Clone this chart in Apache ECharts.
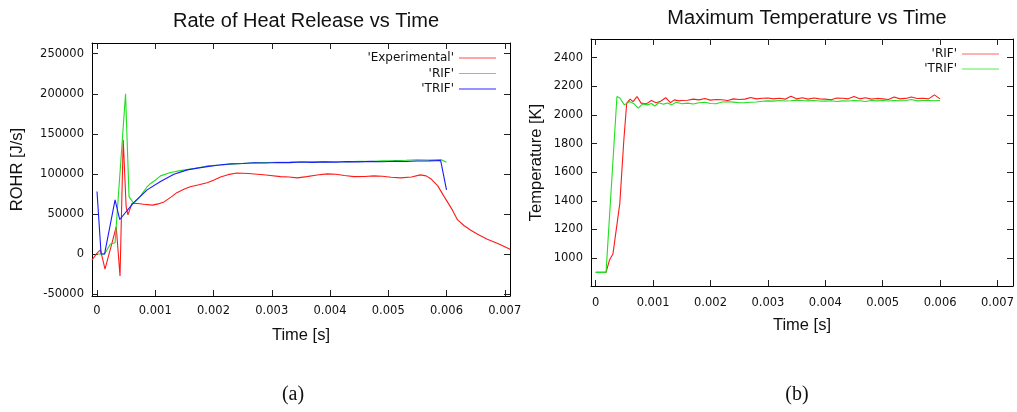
<!DOCTYPE html>
<html>
<head>
<meta charset="utf-8">
<script src="https://cdn.jsdelivr.net/npm/echarts@6/dist/echarts.min.js"></script>
<style>
  html, body { margin: 0; padding: 0; background: #ffffff; }
  #chart { width: 1017px; height: 412px; }
</style>
</head>
<body>
<div id="chart"></div>
<script>
// ---- (a) Rate of heat release, J/s ----
const expTime = [-0.000086, 0, 0.00006, 0.000137, 0.00026, 0.00033, 0.000395, 0.00045, 0.0005, 0.00053, 0.0006,
  0.0007, 0.0008, 0.00095, 0.00105, 0.00115, 0.00127, 0.00137, 0.0015, 0.0016, 0.00175, 0.00189, 0.002, 0.00212,
  0.00225, 0.0024, 0.0026, 0.00275, 0.0029, 0.00315, 0.0033, 0.00344, 0.0036, 0.00378, 0.00395, 0.0041, 0.00425,
  0.00441, 0.0046, 0.00475, 0.0049, 0.00505, 0.00521, 0.0054, 0.00555, 0.00565, 0.00573, 0.00585, 0.00596, 0.0061,
  0.00619, 0.0063, 0.00641, 0.00655, 0.0067, 0.0069, 0.00709];
const expRohr = [-7500, 1000, 5000, -19000, 14500, 34000, -27500, 142500, 59000, 48750, 63000,
  63000, 62000, 61000, 62500, 65000, 71000, 76500, 81000, 84000, 86500, 89000, 92000, 96000,
  99000, 101000, 100500, 99500, 98500, 96500, 96000, 95000, 96500, 98500, 100000, 99500, 98000,
  96600, 96800, 97500, 97000, 95800, 95000, 96000, 98750, 97500, 94000, 85000, 71600, 55000,
  42500, 35500, 30000, 24000, 18400, 12500, 5900];

const rifTime = [0, 0.00013, 0.00023, 0.00031, 0.00049, 0.00055, 0.00063, 0.00074, 0.00085, 0.00092, 0.001,
  0.00109, 0.00126, 0.00143, 0.0016, 0.00177, 0.0019, 0.00212, 0.0023, 0.0025, 0.0027, 0.0029, 0.0031, 0.0033,
  0.0035, 0.0037, 0.0039, 0.0041, 0.0043, 0.0045, 0.0047, 0.0049, 0.0051, 0.0053, 0.0055, 0.0057, 0.0059, 0.006];
const rifRohr = [0, 0, 12500, 14000, 200000, 71600, 63000, 71600, 83000, 88000, 92000,
  97500, 101600, 104000, 106000, 108000, 110000, 111000, 112000, 113000, 113800, 114200, 114500, 114700,
  115000, 115200, 115000, 115400, 115200, 115600, 115500, 116200, 116500, 117000, 117600, 117200, 118000, 114500];

const trifTime = [0, 0.00007, 0.00013, 0.00031, 0.00039, 0.00042, 0.00063, 0.00086, 0.00109, 0.00132, 0.00155,
  0.00175, 0.00189, 0.0021, 0.00229, 0.0025, 0.0027, 0.0029, 0.0031, 0.0033, 0.0035, 0.0037, 0.0039, 0.0041,
  0.0043, 0.0045, 0.0047, 0.0049, 0.0051, 0.0053, 0.0055, 0.0057, 0.0059, 0.006];
const trifRohr = [78000, 0, 0, 67500, 43000, 43000, 64000, 80000, 90400, 99600, 105000,
  107500, 109000, 111000, 112500, 113000, 113800, 113500, 114200, 114000, 114800, 114300, 115000, 114500,
  115300, 115000, 115600, 115200, 115800, 115500, 116000, 116200, 116600, 80000];

// ---- (b) Maximum temperature, K ----
const rifTempTime = [0, 0.00018, 0.00024, 0.0003, 0.00042, 0.00049, 0.00054, 0.0006, 0.00065, 0.00072, 0.00079,
  0.00088, 0.00097, 0.00105, 0.00113, 0.00122, 0.0013, 0.00137, 0.00145, 0.0015, 0.0016, 0.0017, 0.0018, 0.0019,
  0.002, 0.0021, 0.0022, 0.0023, 0.0024, 0.0025, 0.0026, 0.0027, 0.0028, 0.0029, 0.003, 0.0031, 0.0032, 0.0033,
  0.0034, 0.0035, 0.0036, 0.0037, 0.0038, 0.0039, 0.004, 0.0041, 0.0042, 0.0043, 0.0044, 0.0045, 0.0046, 0.0047,
  0.0048, 0.0049, 0.005, 0.0051, 0.0052, 0.0053, 0.0054, 0.0055, 0.0056, 0.0057, 0.0058, 0.0059, 0.006];
const rifTemp = [900, 900, 986, 1028, 1382, 1825, 2082, 2110, 2093, 2128, 2082,
  2077, 2100, 2085, 2095, 2120, 2085, 2105, 2098, 2100, 2102, 2110, 2105, 2115,
  2103, 2108, 2106, 2100, 2112, 2108, 2110, 2122, 2112, 2116, 2118, 2112, 2116, 2110,
  2130, 2112, 2120, 2110, 2118, 2112, 2110, 2106, 2118, 2116, 2112, 2128, 2112, 2120,
  2110, 2115, 2112, 2108, 2125, 2112, 2115, 2125, 2114, 2116, 2112, 2140, 2112];

const trifTempTime = [0, 0.00018, 0.00037, 0.00042, 0.0005, 0.00059, 0.00066, 0.00074, 0.00082, 0.0009, 0.00097,
  0.00103, 0.0011, 0.00118, 0.00125, 0.00132, 0.0014, 0.0015, 0.0016, 0.0017, 0.0018, 0.0019, 0.002, 0.0021,
  0.0022, 0.0023, 0.0024, 0.0025, 0.0026, 0.0027, 0.0028, 0.0029, 0.003, 0.0031, 0.0032, 0.0033, 0.0034, 0.0035,
  0.0036, 0.0037, 0.0038, 0.0039, 0.004, 0.0041, 0.0042, 0.0043, 0.0044, 0.0045, 0.0046, 0.0047, 0.0048, 0.0049,
  0.005, 0.0051, 0.0052, 0.0053, 0.0054, 0.0055, 0.0056, 0.0057, 0.0058, 0.0059, 0.006];
const trifTemp = [900, 900, 2128, 2118, 2070, 2093, 2080, 2047, 2077, 2070, 2080,
  2062, 2085, 2075, 2083, 2070, 2088, 2078, 2082, 2076, 2085, 2088, 2080, 2078,
  2090, 2092, 2089, 2085, 2086, 2088, 2090, 2095, 2098, 2096, 2100, 2097, 2099, 2103,
  2100, 2098, 2100, 2097, 2096, 2099, 2094, 2098, 2097, 2100, 2099, 2093, 2100, 2098,
  2100, 2097, 2101, 2099, 2100, 2108, 2098, 2100, 2101, 2099, 2100];

// ---- tick positions ----
const timeTicks = [0, 0.001, 0.002, 0.003, 0.004, 0.005, 0.006, 0.007];
const rohrTicks = [-50000, 0, 50000, 100000, 150000, 200000, 250000];
const tempTicks = [1000, 1200, 1400, 1600, 1800, 2000, 2200, 2400];

const legendText = {
  'Experimental': "'Experimental'", 'RIF': "'RIF'", 'TRIF': "'TRIF'",
  'RIF Tmax': "'RIF'", 'TRIF Tmax': "'TRIF'"
};

const pairs = (ts, vs) => ts.map((t, i) => [t, vs[i]]);

const INK = '#111';
const tickFont = { fontFamily: 'DejaVu Sans', fontSize: 11.5, color: INK };
const legendFont = { fontFamily: 'DejaVu Sans', fontSize: 12, color: INK };
const nameFont = { fontFamily: 'Liberation Sans', fontSize: 16.5, color: INK };

function axis(opts) {
  const mirror = opts.mirror;
  return {
    type: 'value',
    gridIndex: opts.grid,
    position: opts.position,
    min: opts.min,
    max: opts.max,
    scale: true,
    name: mirror ? '' : opts.name,
    nameLocation: 'middle',
    nameGap: opts.nameGap,
    nameTextStyle: nameFont,
    axisLine: { show: true, onZero: false, lineStyle: { color: '#000', width: 1 } },
    axisTick: { show: true, inside: true, length: 6, customValues: opts.ticks,
      lineStyle: { color: '#222', width: 1 } },
    axisLabel: { show: !mirror, customValues: opts.ticks, margin: opts.margin || 8,
      formatter: v => String(v), ...tickFont },
    splitLine: { show: false },
    minorTick: { show: false }
  };
}

const chart = echarts.init(document.getElementById('chart'), null, { renderer: 'canvas' });

const rohrX = { min: -0.000086, max: 0.00709 };
const rohrY = { min: -52500, max: 263400 };
const tempX = { min: -0.000082, max: 0.00727 };
const tempY = { min: 805, max: 2530 };

const legendBase = {
  orient: 'vertical', align: 'right', padding: 0, icon: 'rect',
  itemWidth: 37, itemHeight: 1.2, selectedMode: false,
  formatter: n => legendText[n], textStyle: legendFont
};

chart.setOption({
  animation: false,
  backgroundColor: '#ffffff',
  title: [
    { text: 'Rate of Heat Release vs Time', left: 301, top: 6, textAlign: 'center',
      textStyle: { fontFamily: 'Liberation Sans', fontSize: 20, fontWeight: 'normal', color: INK } },
    { text: 'Maximum Temperature vs Time', left: 802, top: 3, textAlign: 'center',
      textStyle: { fontFamily: 'Liberation Sans', fontSize: 20, fontWeight: 'normal', color: INK } }
  ],
  grid: [
    { left: 92, top: 43, width: 418, height: 253, containLabel: false },
    { left: 591, top: 39, width: 422, height: 247, containLabel: false }
  ],
  xAxis: [
    axis({ grid: 0, position: 'bottom', ...rohrX, ticks: timeTicks, name: 'Time [s]', nameGap: 31, margin: 9 }),
    axis({ grid: 0, position: 'top', ...rohrX, ticks: timeTicks, mirror: true }),
    axis({ grid: 1, position: 'bottom', ...tempX, ticks: timeTicks, name: 'Time [s]', nameGap: 31, margin: 11 }),
    axis({ grid: 1, position: 'top', ...tempX, ticks: timeTicks, mirror: true })
  ],
  yAxis: [
    axis({ grid: 0, position: 'left', ...rohrY, ticks: rohrTicks, name: 'ROHR [J/s]', nameGap: 66 }),
    axis({ grid: 0, position: 'right', ...rohrY, ticks: rohrTicks, mirror: true }),
    axis({ grid: 1, position: 'left', ...tempY, ticks: tempTicks, name: 'Temperature [K]', nameGap: 46 }),
    axis({ grid: 1, position: 'right', ...tempY, ticks: tempTicks, mirror: true })
  ],
  legend: [
    { ...legendBase, data: ['Experimental', 'RIF', 'TRIF'], right: 521, top: 52, itemGap: 3.5 },
    { ...legendBase, data: ['RIF Tmax', 'TRIF Tmax'], right: 18, top: 48, itemGap: 3 }
  ],
  series: [
    { name: 'Experimental', type: 'line', xAxisIndex: 0, yAxisIndex: 0, data: pairs(expTime, expRohr),
      symbol: 'none', smooth: false, lineStyle: { color: '#ff1a1a', width: 1.1 }, itemStyle: { color: '#ff4d4d' } },
    { name: 'RIF', type: 'line', xAxisIndex: 0, yAxisIndex: 0, data: pairs(rifTime, rifRohr),
      symbol: 'none', lineStyle: { color: '#1ee01e', width: 1.1 }, itemStyle: { color: '#4dee4d' } },
    { name: 'TRIF', type: 'line', xAxisIndex: 0, yAxisIndex: 0, data: pairs(trifTime, trifRohr),
      symbol: 'none', lineStyle: { color: '#1a1aff', width: 1.1 }, itemStyle: { color: '#2a2aff' } },
    { name: 'RIF Tmax', type: 'line', xAxisIndex: 2, yAxisIndex: 2, data: pairs(rifTempTime, rifTemp),
      symbol: 'none', lineStyle: { color: '#ff1a1a', width: 1.1 }, itemStyle: { color: '#ff6666' } },
    { name: 'TRIF Tmax', type: 'line', xAxisIndex: 2, yAxisIndex: 2, data: pairs(trifTempTime, trifTemp),
      symbol: 'none', lineStyle: { color: '#1ee01e', width: 1.1 }, itemStyle: { color: '#55ee55' } }
  ],
  graphic: [
    { type: 'text', x: 293, y: 395, style: { text: '(a)', fontFamily: 'Liberation Serif', fontSize: 20,
      fill: INK, align: 'center', verticalAlign: 'middle' } },
    { type: 'text', x: 797, y: 395, style: { text: '(b)', fontFamily: 'Liberation Serif', fontSize: 20,
      fill: INK, align: 'center', verticalAlign: 'middle' } }
  ]
});
</script>
</body>
</html>
